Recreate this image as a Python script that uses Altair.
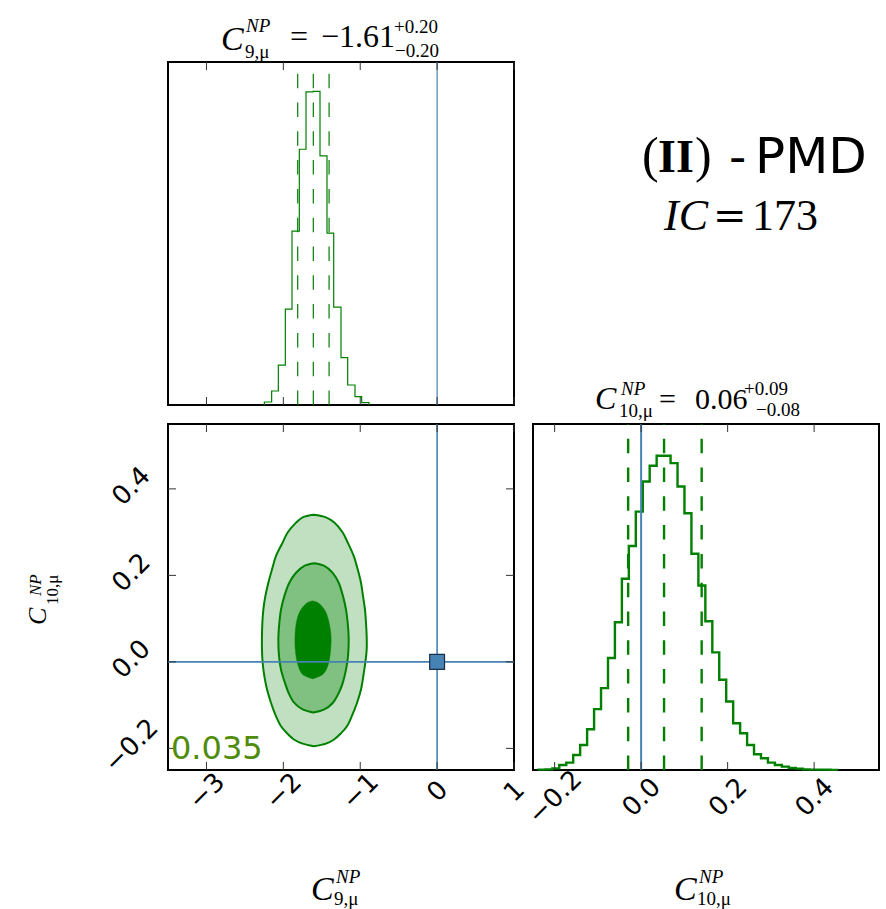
import altair as alt
import pandas as pd

# ---------------- values ----------------
# top panel: marginal histogram of C9
c9_edges = [-2.247, -2.152, -2.065, -1.974, -1.887, -1.792, -1.705, -1.614,
            -1.523, -1.432, -1.345, -1.250, -1.163, -1.068, -0.981, -0.886]
c9_counts = [9, 42, 120, 288, 522, 768, 940, 942, 748, 516, 294, 142, 60, 25, 7]
c9_quantiles = [-1.813, -1.610, -1.405]

# right panel: marginal histogram of C10
c10_edges = [-0.2374, -0.2213, -0.2053, -0.1892, -0.1731, -0.1570, -0.1410,
             -0.1249, -0.1088, -0.0927, -0.0766, -0.0606, -0.0445, -0.0284,
             -0.0123, 0.0038, 0.0198, 0.0359, 0.0520, 0.0681, 0.0842, 0.1002,
             0.1163, 0.1324, 0.1485, 0.1646, 0.1806, 0.1967, 0.2128, 0.2289,
             0.2450, 0.2610, 0.2771, 0.2932, 0.3093, 0.3254, 0.3414, 0.3575,
             0.3736, 0.3897, 0.4058, 0.4218, 0.4379, 0.4540]
c10_counts = [1, 2, 5,
              15, 22, 45, 75, 122, 182, 245, 335, 442, 572,
              670, 773, 863, 910, 940, 940, 918, 848, 768, 647,
              552, 445, 352, 270, 205, 140, 110, 75, 47, 35,
              22, 15, 10, 6, 4, 2, 1, 1, 1, 0.5]
c10_quantiles = [-0.030, 0.053, 0.140]

# reference (SM) point
truth_c9 = [0.0]
truth_c10 = [0.0]

# 2D credible contours: C10 level, left and right C9 boundary
outer_y = [0.340, 0.334, 0.322, 0.299, 0.276, 0.245, 0.214, 0.183, 0.152, 0.121,
           0.090, 0.059, 0.029, -0.002, -0.033, -0.064, -0.095, -0.126, -0.149,
           -0.165, -0.180, -0.189, -0.195]
outer_left = [-1.606, -1.749, -1.835, -1.944, -2.009, -2.095, -2.147, -2.195, -2.234,
              -2.260, -2.273, -2.278, -2.278, -2.269, -2.247, -2.212, -2.160, -2.095,
              -2.030, -1.952, -1.857, -1.749, -1.606]
outer_right = [-1.606, -1.445, -1.337, -1.228, -1.163, -1.085, -1.033, -0.990, -0.964,
               -0.938, -0.925, -0.916, -0.916, -0.934, -0.960, -0.990, -1.042, -1.111,
               -1.172, -1.250, -1.345, -1.445, -1.606]

mid_y = [0.228, 0.222, 0.206, 0.183, 0.152, 0.121, 0.090, 0.052, 0.013, -0.018,
         -0.049, -0.072, -0.095, -0.110, -0.117]
mid_left = [-1.597, -1.727, -1.835, -1.922, -1.987, -2.030, -2.052, -2.065, -2.056,
            -2.030, -1.978, -1.931, -1.857, -1.749, -1.610]
mid_right = [-1.597, -1.467, -1.358, -1.280, -1.224, -1.185, -1.163, -1.150, -1.159,
             -1.185, -1.228, -1.280, -1.358, -1.467, -1.610]

inner_y = [0.141, 0.137, 0.121, 0.098, 0.059, 0.021, -0.010, -0.029, -0.039]
inner_left = [-1.619, -1.684, -1.770, -1.822, -1.848, -1.840, -1.805, -1.749, -1.619]
inner_right = [-1.619, -1.553, -1.467, -1.415, -1.380, -1.389, -1.423, -1.488, -1.619]

c9_ticks = [-3, -2, -1, 0, 1]
c10_ticks = [-0.2, 0.0, 0.2, 0.4]

# ---------------- styling ----------------
W = 346
H_TOP = 343
H_BOT = 346
TICK = 8
GREEN = "#008000"
BLUE = "#4682b4"
DASH = [14.5, 14.3]
SERIF = "Liberation Serif"
SANS = "DejaVu Sans"

x9 = alt.Scale(domain=[-3.5, 1.0], nice=False, zero=False)
x10 = alt.Scale(domain=[-0.25, 0.55], nice=False, zero=False)
y10 = alt.Scale(domain=[-0.25, 0.55], nice=False, zero=False)


def rot_axis(values, fmt, pad, offset=0):
    return alt.Axis(values=values, format=fmt, labelAngle=315, labelAlign="center",
                    labelBaseline="middle", labelPadding=pad, labelOffset=offset,
                    labelFont=SANS, labelFontSize=26, labelColor="black",
                    ticks=False, tickSize=0, domain=False, grid=False, title=None,
                    labelFlush=False, labelOverlap=False)


AX9 = rot_axis(c9_ticks, "d", 21)
AY10 = rot_axis(c10_ticks, ".1f", 37, -3)
AX10 = rot_axis(c10_ticks, ".1f", 27)


def step_frame(edges, counts):
    xs = [edges[0]] + list(edges[:-1]) + [edges[-1], edges[-1]]
    ys = [0] + list(counts) + [counts[-1], 0]
    return pd.DataFrame({"x": xs, "y": ys, "i": list(range(len(xs)))})


def txt(s, x, y, size, font=SERIF, style="normal", weight="normal",
        color="black", angle=0):
    return alt.Chart(pd.DataFrame({"s": [s]})).mark_text(
        align="left", baseline="alphabetic", font=font, fontSize=size,
        fontStyle=style, fontWeight=weight, color=color, angle=angle
    ).encode(x=alt.value(x), y=alt.value(y), text="s:N")


def ticks_x(values, scale, axis, h):
    df = pd.DataFrame({"v": values})
    top = alt.Chart(df).mark_rule(color="#333333", strokeWidth=1).encode(
        x=alt.X("v:Q", scale=scale, axis=axis), y=alt.value(0), y2=alt.value(TICK))
    bot = alt.Chart(df).mark_rule(color="#333333", strokeWidth=1).encode(
        x=alt.X("v:Q", scale=scale, axis=axis), y=alt.value(h - TICK), y2=alt.value(h))
    return [top, bot]


def ticks_y(values, scale, axis, w):
    df = pd.DataFrame({"v": values})
    left = alt.Chart(df).mark_rule(color="#333333", strokeWidth=1).encode(
        y=alt.Y("v:Q", scale=scale, axis=axis), x=alt.value(0), x2=alt.value(TICK))
    right = alt.Chart(df).mark_rule(color="#333333", strokeWidth=1).encode(
        y=alt.Y("v:Q", scale=scale, axis=axis), x=alt.value(w - TICK), x2=alt.value(w))
    return [left, right]


# ---------------- top: C9 histogram ----------------
top_line = alt.Chart(step_frame(c9_edges, c9_counts)).mark_line(
    interpolate="step-after", color=GREEN, strokeWidth=1.2
).encode(
    x=alt.X("x:Q", scale=x9, axis=None),
    y=alt.Y("y:Q", scale=alt.Scale(domain=[0, 1030], nice=False), axis=None),
    order="i:Q",
)
top_q = alt.Chart(pd.DataFrame({"q": c9_quantiles})).mark_rule(
    color=GREEN, strokeWidth=1.2, strokeDash=DASH
).encode(x=alt.X("q:Q", scale=x9, axis=None), y=alt.value(H_TOP), y2=alt.value(0))
top_truth = alt.Chart(pd.DataFrame({"t": truth_c9})).mark_rule(
    color=BLUE, strokeWidth=1.2
).encode(x=alt.X("t:Q", scale=x9, axis=None))

top_title = [
    txt("C", 53, -12, 34, style="italic"),
    txt("NP", 78, -30, 19, style="italic"),
    txt("9,μ", 77, -4, 19),
    txt("=", 122, -15, 32),
    txt("−1.61", 153, -15, 32),
    txt("+0.20", 226, -29, 19),
    txt("−0.20", 227, -5, 19),
]

top = alt.layer(top_line, top_q, top_truth, *ticks_x(c9_ticks, x9, None, H_TOP),
                *top_title).properties(width=W, height=H_TOP)

# ---------------- top-right annotation ----------------
annot = alt.layer(
    txt("(", 109, 110, 50),
    txt("II", 125, 110, 46, weight="bold"),
    txt(")", 162, 110, 50),
    txt("-", 196, 111, 48, font=SANS),
    txt("PMD", 222, 111, 50, font=SANS),
    txt("IC", 131, 168, 44, style="italic"),
    txt("=", 180, 167, 40, font="DejaVu Serif"),
    txt("173", 219, 168, 44),
).properties(width=W, height=H_TOP, view=alt.ViewBackground(strokeOpacity=0))

# ---------------- bottom-left: 2D contours ----------------
def contour(ys, xl, xr, fill, stroke_w):
    df = pd.DataFrame({"y": ys, "xl": xl, "xr": xr})
    return alt.Chart(df).mark_area(
        orient="horizontal", interpolate="catmull-rom", fill=fill,
        stroke=GREEN, strokeWidth=stroke_w, opacity=1
    ).encode(
        y=alt.Y("y:Q", scale=y10, axis=AY10),
        x=alt.X("xl:Q", scale=x9, axis=AX9),
        x2="xr:Q",
    )


c_outer = contour(outer_y, outer_left, outer_right, "#c1e0c1", 2)
c_mid = contour(mid_y, mid_left, mid_right, "#80c080", 2)
c_inner = contour(inner_y, inner_left, inner_right, GREEN, 0.5)

h_truth = alt.Chart(pd.DataFrame({"t": truth_c10})).mark_rule(
    color=BLUE, strokeWidth=1.6).encode(y=alt.Y("t:Q", scale=y10, axis=AY10))
v_truth = alt.Chart(pd.DataFrame({"t": truth_c9})).mark_rule(
    color=BLUE, strokeWidth=1.6).encode(x=alt.X("t:Q", scale=x9, axis=AX9))
pt_truth = alt.Chart(pd.DataFrame({"a": truth_c9, "b": truth_c10})).mark_point(
    shape="square", filled=True, size=220, color=BLUE, stroke="#1b2f45",
    strokeWidth=1.2, opacity=1
).encode(x=alt.X("a:Q", scale=x9, axis=AX9), y=alt.Y("b:Q", scale=y10, axis=AY10))

mid_text = [
    txt("0.035", 3, 335, 32, font=SANS, color="#4f8c0a"),
    # y-axis title
    txt("C", -122, 201, 26, style="italic", angle=270),
    txt("NP", -127, 172, 17, style="italic", angle=270),
    txt("10,μ", -110, 181, 17, angle=270),
    # x-axis title
    txt("C", 143, 476, 34, style="italic"),
    txt("NP", 168, 459, 19, style="italic"),
    txt("9,μ", 166, 481, 19),
]

mid = alt.layer(
    c_outer, c_mid, c_inner, h_truth, v_truth,
    *ticks_x(c9_ticks, x9, AX9, H_BOT), *ticks_y(c10_ticks, y10, AY10, W),
    pt_truth, *mid_text
).properties(width=W, height=H_BOT)

# ---------------- bottom-right: C10 histogram ----------------
r_line = alt.Chart(step_frame(c10_edges, c10_counts)).mark_line(
    interpolate="step-after", color=GREEN, strokeWidth=2.4
).encode(
    x=alt.X("x:Q", scale=x10, axis=AX10),
    y=alt.Y("y:Q", scale=alt.Scale(domain=[0, 1035], nice=False), axis=None),
    order="i:Q",
)
r_q = alt.Chart(pd.DataFrame({"q": c10_quantiles})).mark_rule(
    color=GREEN, strokeWidth=2.4, strokeDash=DASH
).encode(x=alt.X("q:Q", scale=x10, axis=AX10), y=alt.value(H_BOT), y2=alt.value(0))
r_truth = alt.Chart(pd.DataFrame({"t": truth_c10})).mark_rule(
    color=BLUE, strokeWidth=2).encode(x=alt.X("t:Q", scale=x10, axis=AX10))

r_text = [
    txt("C", 62, -15, 32, style="italic"),
    txt("NP", 88, -29, 19, style="italic"),
    txt("10,μ", 86, -7, 19),
    txt("=", 126, -15, 30),
    txt("0.06", 162, -15, 30),
    txt("+0.09", 211, -29, 19),
    txt("−0.08", 223, -8, 19),
    # x-axis title
    txt("C", 141, 476, 34, style="italic"),
    txt("NP", 166, 459, 19, style="italic"),
    txt("10,μ", 164, 481, 19),
]

right = alt.layer(
    r_line, r_q, r_truth, *ticks_x(c10_ticks, x10, AX10, H_BOT), *r_text
).properties(width=W, height=H_BOT)

chart = alt.concat(
    top, annot, mid, right, columns=2, spacing=19, bounds="flush", align="each"
).properties(
    padding={"left": 24, "top": 16, "right": 5, "bottom": 5}
).configure_view(stroke="black", strokeWidth=2)

chart.save("out.html", embed_options={"renderer": "svg", "actions": False})
